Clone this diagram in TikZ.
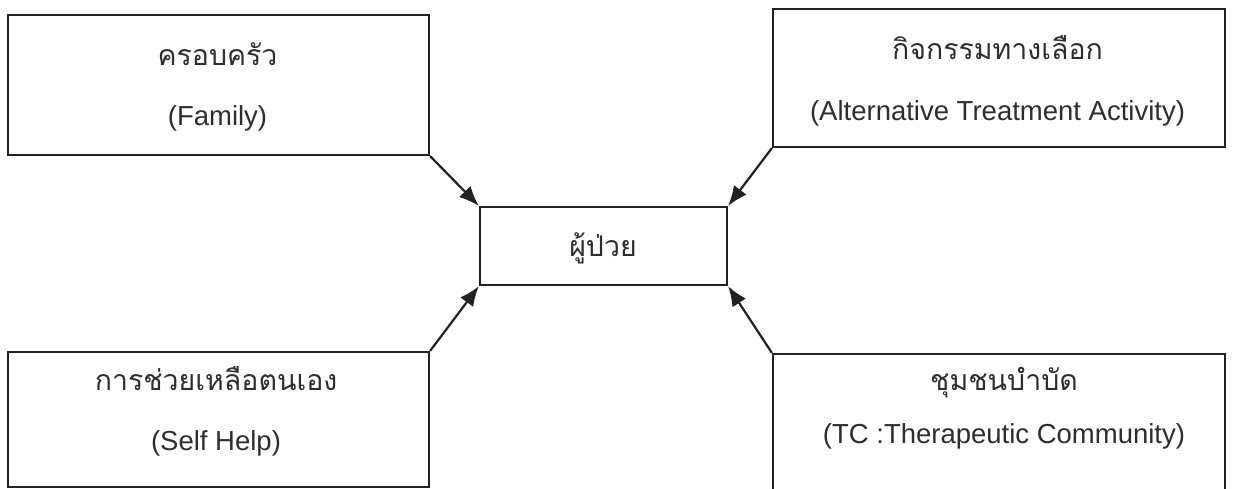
\documentclass[tikz,border=0pt]{standalone}
\usepackage{fontspec}
\setmainfont{Liberation Sans}
\newfontfamily\thaifont[Script=Thai]{Loma}
\usetikzlibrary{arrows.meta}
\definecolor{ink}{HTML}{222222}
\definecolor{txt}{HTML}{2E2E2E}
\begin{document}
\begin{tikzpicture}[x=1pt,y=-1pt,
  box/.style={draw=ink,line width=2.2pt,inner sep=0pt},
  en/.style={anchor=base,inner sep=0pt,text=txt,font=\fontsize{27.5}{32}\selectfont},
  th/.style={anchor=base,inner sep=0pt,text=txt,font=\thaifont\fontsize{28.5}{32}\selectfont},
  arr/.style={draw=ink,line width=2.2pt,-{Latex[length=20pt,width=16pt]}}]
\useasboundingbox (0,0) rectangle (1233,489);
\fill[white] (0,0) rectangle (1233,489);
% boxes
\node[box,minimum width=421pt,minimum height=140pt] (fam) at (218.5,85) {};
\node[box,minimum width=452pt,minimum height=138pt] (alt) at (999,78) {};
\node[box,minimum width=247pt,minimum height=78pt] (pat) at (603.5,246) {};
\node[box,minimum width=421pt,minimum height=135pt] (self) at (218.5,419.5) {};
\node[box,minimum width=452pt,minimum height=140pt] (tc) at (999,424) {};
% texts
\node[th] (famTh) at (217.5,66) {ครอบครัว};
\node[en] (famEn) at (217.5,126) {(Family)};
\node[th] (altTh) at (997.5,60) {กิจกรรมทางเลือก};
\node[en] (altEn) at (997.5,121) {(Alternative Treatment Activity)};
\node[th] (patTh) at (603,256) {ผู้ป่วย};
\node[th] (selfTh) at (216,390) {การช่วยเหลือตนเอง};
\node[en] (selfEn) at (216,450) {(Self Help)};
\node[th] (tcTh) at (1004,390) {ชุมชนบำบัด};
\node[en] (tcEn) at (1004,443) {(TC :Therapeutic Community)};
% arrows
\draw[arr] (fam.south east) -- (pat.north west);
\draw[arr] (alt.south west) -- (pat.north east);
\draw[arr] (self.north east) -- (pat.south west);
\draw[arr] (tc.north west) -- (pat.south east);
\end{tikzpicture}
\end{document}
